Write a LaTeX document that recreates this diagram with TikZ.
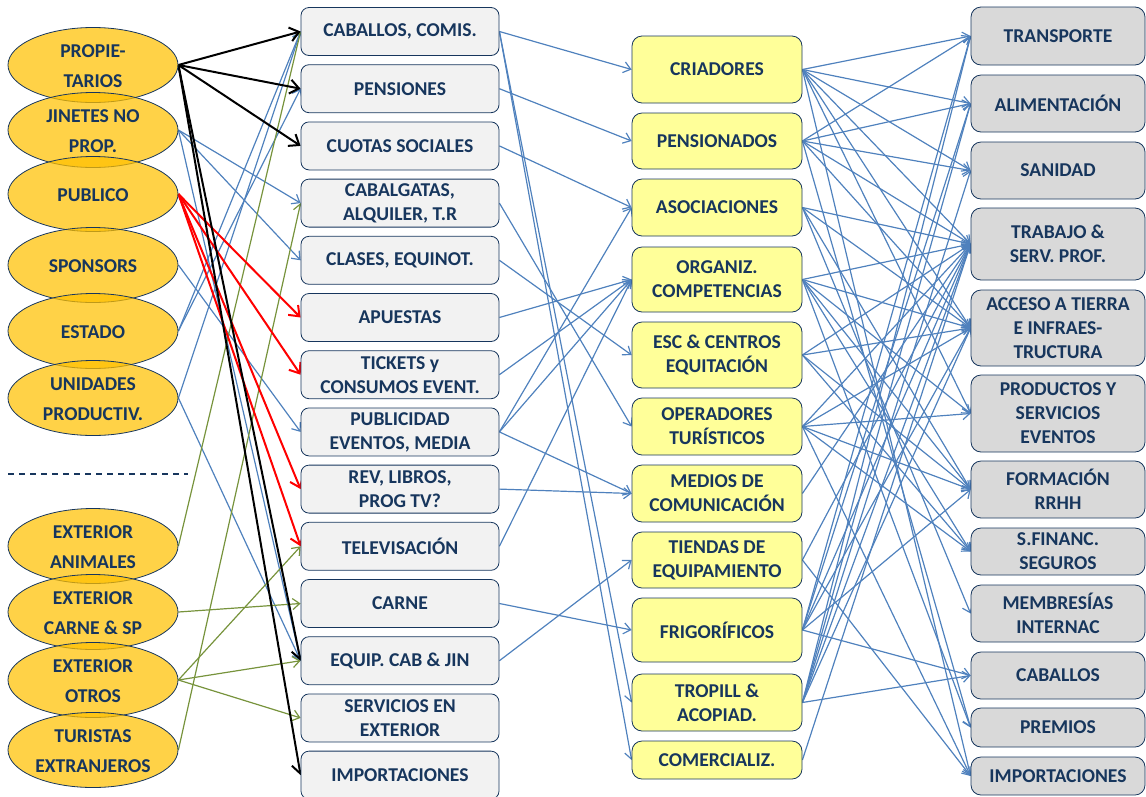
\documentclass[tikz,border=0pt]{standalone}
\usepackage{fontspec}
\setmainfont{Carlito}
\usetikzlibrary{shapes.geometric,arrows.meta}
\definecolor{navy}{HTML}{17365D}
\definecolor{edgeblue}{HTML}{4F81BD}
\definecolor{edgegreen}{HTML}{77933C}
\definecolor{ovalfill}{HTML}{FFC000}
\definecolor{srcfill}{HTML}{F2F2F2}
\definecolor{midfill}{HTML}{FFFF99}
\definecolor{costfill}{HTML}{D9D9D9}
\pgfdeclarelayer{bg}
\pgfsetlayers{bg,main}
\begin{document}
\begin{tikzpicture}[x=1pt,y=-1pt,
  txt/.style={text=navy, font=\bfseries\fontsize{19.6}{24}\selectfont, align=center},
  oval/.style={ellipse, draw=navy, line width=0.8pt, fill=ovalfill, fill opacity=0.72,
    minimum width=170pt, minimum height=75pt, inner sep=0pt},
  ovaltext/.style={text=navy, font=\bfseries\fontsize{19.6}{30}\selectfont, align=center},
  flowbox/.style={txt, rectangle, rounded corners=8pt, draw=navy, line width=0.8pt,
    fill=srcfill, minimum width=198pt, minimum height=48pt, inner sep=0pt},
  agentbox/.style={txt, rectangle, rounded corners=10pt, draw=navy, line width=0.8pt,
    fill=midfill, minimum width=170pt, inner sep=0pt},
  costbox/.style={txt, rectangle, rounded corners=10pt, draw=navy, line width=0.8pt,
    fill=costfill, minimum width=174pt, inner sep=0pt},
  flow/.style={draw=edgeblue, line width=1.2pt, -{Straight Barb[length=7pt,width=11pt]}},
  extflow/.style={draw=edgegreen, line width=1.2pt, -{Straight Barb[length=7pt,width=11pt]}},
  ownflow/.style={draw=black, line width=2pt, -{Straight Barb[length=9pt,width=14pt]}},
  pubflow/.style={draw=red, line width=2pt, -{Straight Barb[length=9pt,width=14pt]}}
]
\useasboundingbox (0,0) rectangle (1146,796);

% ---------- payers (ovals) ----------
\node[oval] (prop) at (93,65) {};
\node[ovaltext] at ([yshift=-1.5pt]prop) {PROPIE-\\TARIOS};
\node[oval] (jin) at (93,130) {};
\node[ovaltext] at ([yshift=-1.5pt]jin) {JINETES NO\\PROP.};
\node[oval] (pub) at (93,194) {};
\node[ovaltext] at ([yshift=-1.5pt]pub) {PUBLICO};
\node[oval] (spo) at (93,265) {};
\node[ovaltext] at ([yshift=-1.5pt]spo) {SPONSORS};
\node[oval] (est) at (93,331) {};
\node[ovaltext] at ([yshift=-1.5pt]est) {ESTADO};
\node[oval] (uni) at (93,398) {};
\node[ovaltext] at ([yshift=-1.5pt]uni) {UNIDADES\\PRODUCTIV.};

\draw[navy, line width=1.1pt, dash pattern=on 6pt off 5pt] (8,474) -- (188,474);

\node[oval] (exan) at (93,546) {};
\node[ovaltext] at ([yshift=-1.5pt]exan) {EXTERIOR\\ANIMALES};
\node[oval] (excar) at (93,612) {};
\node[ovaltext] at ([yshift=-1.5pt]excar) {EXTERIOR\\CARNE \& SP};
\node[oval] (exot) at (93,680) {};
\node[ovaltext] at ([yshift=-1.5pt]exot) {EXTERIOR\\OTROS};
\node[oval] (tur) at (93,750) {};
\node[ovaltext] at ([yshift=-1.5pt]tur) {TURISTAS\\EXTRANJEROS};

% ---------- income flows ----------
\node[flowbox] (bcab)  at (400,31.5)  {CABALLOS, COMIS.};
\node[flowbox] (bpen)  at (400,88.7)  {PENSIONES};
\node[flowbox] (bcuo)  at (400,145.9) {CUOTAS SOCIALES};
\node[flowbox] (bcabg) at (400,203.1) {CABALGATAS,\\ALQUILER, T.R};
\node[flowbox] (bcla)  at (400,260.3) {CLASES, EQUINOT.};
\node[flowbox] (bapu)  at (400,317.5) {APUESTAS};
\node[flowbox] (btic)  at (400,374.7) {TICKETS y\\CONSUMOS EVENT.};
\node[flowbox] (bpubl) at (400,431.9) {PUBLICIDAD\\EVENTOS, MEDIA};
\node[flowbox] (brev)  at (400,489.1) {REV, LIBROS,\\PROG TV?};
\node[flowbox] (btel)  at (400,546.3) {TELEVISACIÓN};
\node[flowbox] (bcar)  at (400,603.5) {CARNE};
\node[flowbox] (bequ)  at (400,660.7) {EQUIP. CAB \& JIN};
\node[flowbox] (bser)  at (400,717.9) {SERVICIOS EN\\EXTERIOR};
\node[flowbox] (bimp)  at (400,775.1) {IMPORTACIONES};

% ---------- agents ----------
\node[agentbox, minimum height=67pt] (cria) at (717,69.5)  {CRIADORES};
\node[agentbox, minimum height=56pt] (pens) at (717,141)   {PENSIONADOS};
\node[agentbox, minimum height=57pt] (aso)  at (717,207.5) {ASOCIACIONES};
\node[agentbox, minimum height=65pt] (org)  at (717,279.5) {ORGANIZ.\\COMPETENCIAS};
\node[agentbox, minimum height=66pt] (esc)  at (717,355)   {ESC \& CENTROS\\EQUITACIÓN};
\node[agentbox, minimum height=57pt] (ope)  at (717,426.5) {OPERADORES\\TURÍSTICOS};
\node[agentbox, minimum height=57pt] (med)  at (717,493.5) {MEDIOS DE\\COMUNICACIÓN};
\node[agentbox, minimum height=56pt] (tie)  at (717,560)   {TIENDAS DE\\EQUIPAMIENTO};
\node[agentbox, minimum height=64pt] (fri)  at (717,630)   {FRIGORÍFICOS};
\node[agentbox, minimum height=57pt] (tro)  at (717,702.5) {TROPILL \&\\ACOPIAD.};
\node[agentbox, minimum height=38pt] (com)  at (717,760)   {COMERCIALIZ.};

% ---------- cost items ----------
\node[costbox, minimum height=58pt] (dtr)   at (1058,36)    {TRANSPORTE};
\node[costbox, minimum height=57pt] (dal)   at (1058,103.5) {ALIMENTACIÓN};
\node[costbox, minimum height=57pt] (dsa)   at (1058,170.5) {SANIDAD};
\node[costbox, minimum height=72pt] (dtrab) at (1058,244)   {TRABAJO \&\\SERV. PROF.};
\node[costbox, minimum height=76pt] (dacc)  at (1058,328)   {ACCESO A TIERRA\\E INFRAES-\\TRUCTURA};
\node[costbox, minimum height=77pt] (dprod) at (1058,413.5) {PRODUCTOS Y\\SERVICIOS\\EVENTOS};
\node[costbox, minimum height=57pt] (dform) at (1058,489.5) {FORMACIÓN\\RRHH};
\node[costbox, minimum height=47pt] (dsfin) at (1058,551.5) {S.FINANC.\\SEGUROS};
\node[costbox, minimum height=57pt] (dmemb) at (1058,613.5) {MEMBRESÍAS\\INTERNAC};
\node[costbox, minimum height=47pt] (dcab)  at (1058,675.5) {CABALLOS};
\node[costbox, minimum height=39pt] (dprem) at (1058,727.5) {PREMIOS};
\node[costbox, minimum height=38pt] (dimp)  at (1058,776)   {IMPORTACIONES};

% ---------- connectors ----------
\begin{pgfonlayer}{bg}
  % payers -> income flows
  \foreach \a/\b in {jin/bcabg, jin/bcla, jin/bequ, spo/bpubl, est/bcab, est/bpen,
                     uni/bcab, uni/bequ}
    \draw[flow] (\a.east) -- (\b.west);
  \foreach \a/\b in {exan/bcab, excar/bcar, exot/btel, exot/bequ, exot/bser, tur/bcabg}
    \draw[extflow] (\a.east) -- (\b.west);
  \foreach \b in {bapu, btic, brev, btel}
    \draw[pubflow] (pub.east) -- (\b.west);
  \foreach \b in {bcab, bpen, bcuo, bequ, bimp}
    \draw[ownflow] (prop.east) -- (\b.west);
  % income flows -> agents
  \foreach \a/\b in {bcab/cria, bcab/tro, bcab/com, bpen/pens, bcuo/aso, bcabg/ope,
                     bcla/esc, bapu/org, btic/org, bpubl/org, bpubl/aso, bpubl/med,
                     brev/med, btel/org, bcar/fri, bequ/tie}
    \draw[flow] (\a.east) -- (\b.west);
  % agents -> cost items
  \foreach \a/\b in {cria/dtr, cria/dal, cria/dsa, cria/dtrab, cria/dacc, cria/dprod, cria/dimp,
                     pens/dtr, pens/dal, pens/dsa, pens/dtrab, pens/dacc, pens/dprem,
                     aso/dtrab, aso/dacc, aso/dform, aso/dmemb,
                     org/dtrab, org/dacc, org/dprod, org/dform, org/dsfin, org/dprem,
                     esc/dtrab, esc/dacc, esc/dform, esc/dsfin,
                     ope/dtrab, ope/dacc, ope/dprod, ope/dform, ope/dsfin, ope/dimp,
                     med/dtrab, tie/dtrab, tie/dimp,
                     fri/dtr, fri/dal, fri/dtrab, fri/dacc, fri/dform, fri/dcab,
                     tro/dtr, tro/dal, tro/dsa, tro/dtrab, tro/dacc, tro/dcab,
                     com/dtrab}
    \draw[flow] (\a.east) -- (\b.west);
\end{pgfonlayer}
\end{tikzpicture}
\end{document}
